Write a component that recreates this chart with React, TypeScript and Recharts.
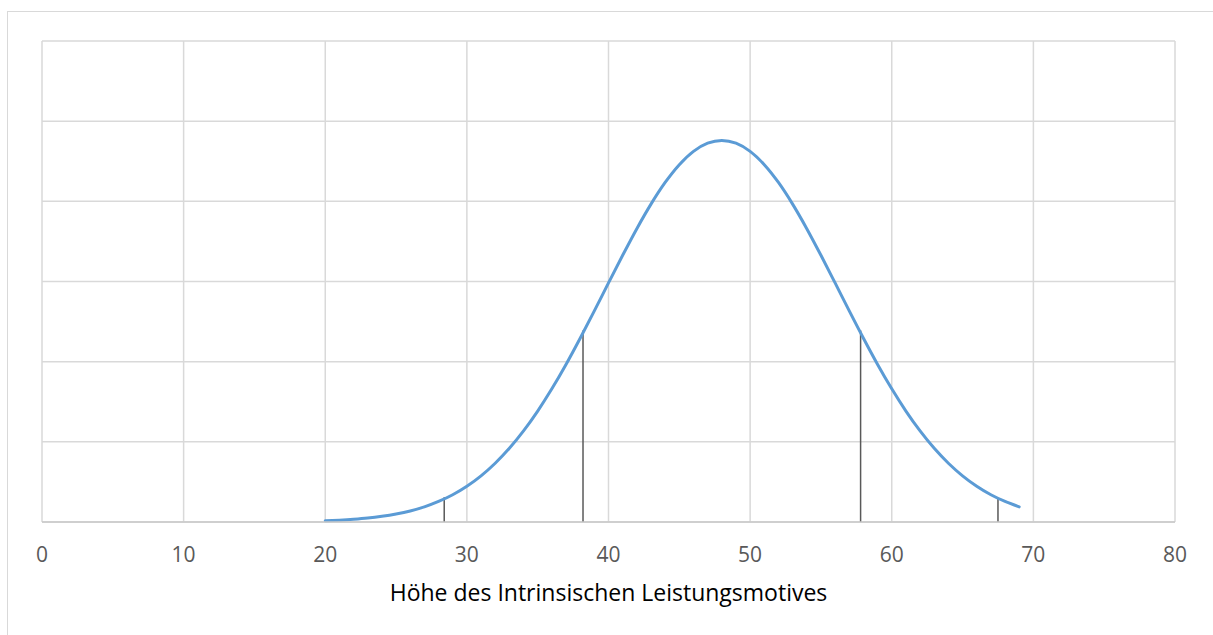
import React from "react";
import { LineChart, Line, XAxis, YAxis, CartesianGrid, Label } from "recharts";

// Curve: x values and density values
const xValues = [20, 21, 22, 23, 24, 25, 26, 27, 28, 29, 30, 31, 32, 33, 34, 35, 36, 37, 38, 39, 40, 41, 42, 43, 44, 45, 46, 47, 48, 49, 50, 51, 52, 53, 54, 55, 56, 57, 58, 59, 60, 61, 62, 63, 64, 65, 66, 67, 68, 69];
const densityValues = [
  0.00015, 0.00023, 0.00034, 0.00049, 0.00071, 0.001, 0.00138, 0.00189, 0.00256, 0.0034,
  0.00446, 0.00576, 0.00733, 0.00919, 0.01136, 0.01384, 0.01661, 0.01965, 0.02292, 0.02633,
  0.02982, 0.03327, 0.03659, 0.03965, 0.04235, 0.04457, 0.04623, 0.04725, 0.0476, 0.04725,
  0.04623, 0.04457, 0.04235, 0.03965, 0.03659, 0.03327, 0.02982, 0.02633, 0.02292, 0.01965,
  0.01661, 0.01384, 0.01136, 0.00919, 0.00733, 0.00576, 0.00446, 0.0034, 0.00256, 0.00189,
];

// Vertical marker lines (positions and heights)
const markerX = [28.4, 38.2, 57.8, 67.5];
const markerHeights = [0.0031, 0.0239, 0.0239, 0.003];

// Axis ticks
const xTicks = [0, 10, 20, 30, 40, 50, 60, 70, 80];
const yTicks = [0, 0.01, 0.02, 0.03, 0.04, 0.05, 0.06];

const xTitle = "Höhe des Intrinsischen Leistungsmotives";

const curveData = xValues.map((x, i) => ({ x, y: densityValues[i] }));
const markerData = markerX.map((x, i) => [
  { x, y: 0 },
  { x, y: markerHeights[i] },
]);

const FONT = "'Open Sans', 'Noto Sans', sans-serif";

export default function App() {
  return (
    <div
      style={{
        position: "absolute",
        left: 0,
        top: 0,
        width: 1213,
        height: 635,
        overflow: "hidden",
        background: "#fff",
      }}
    >
      <div
        style={{
          position: "absolute",
          left: 7,
          top: 11,
          width: 1300,
          height: 700,
          border: "1px solid #D9D9D9",
          boxSizing: "border-box",
        }}
      />
      <div style={{ position: "absolute", left: 0, top: 0 }}>
        <LineChart
          width={1213}
          height={635}
          margin={{ top: 41, right: 38, left: 42, bottom: 83 }}
          style={{ fontFamily: FONT }}
        >
          <CartesianGrid stroke="#D9D9D9" strokeWidth={1.5} />
          <XAxis
            dataKey="x"
            type="number"
            domain={[0, 80]}
            ticks={xTicks}
            allowDuplicatedCategory={false}
            height={30}
            axisLine={{ stroke: "#C8C8C8", strokeWidth: 1.5 }}
            tickLine={false}
            tickSize={0}
            tickMargin={25}
            tick={{ fill: "#595959", fontSize: 21, fontFamily: FONT }}
            interval={0}
          >
            <Label
              value={xTitle}
              position="bottom"
              offset={33}
              fill="#000"
              fontSize={23}
              fontFamily={FONT}
            />
          </XAxis>
          <YAxis type="number" domain={[0, 0.06]} ticks={yTicks} hide />
          {markerData.map((d, i) => (
            <Line
              key={"m" + i}
              data={d}
              dataKey="y"
              stroke="#595959"
              strokeWidth={1.5}
              dot={false}
              activeDot={false}
              isAnimationActive={false}
              type="linear"
            />
          ))}
          <Line
            data={curveData}
            dataKey="y"
            stroke="#5B9BD5"
            strokeWidth={3}
            dot={false}
            activeDot={false}
            isAnimationActive={false}
            type="monotone"
            strokeLinecap="round"
          />
        </LineChart>
      </div>
    </div>
  );
}
